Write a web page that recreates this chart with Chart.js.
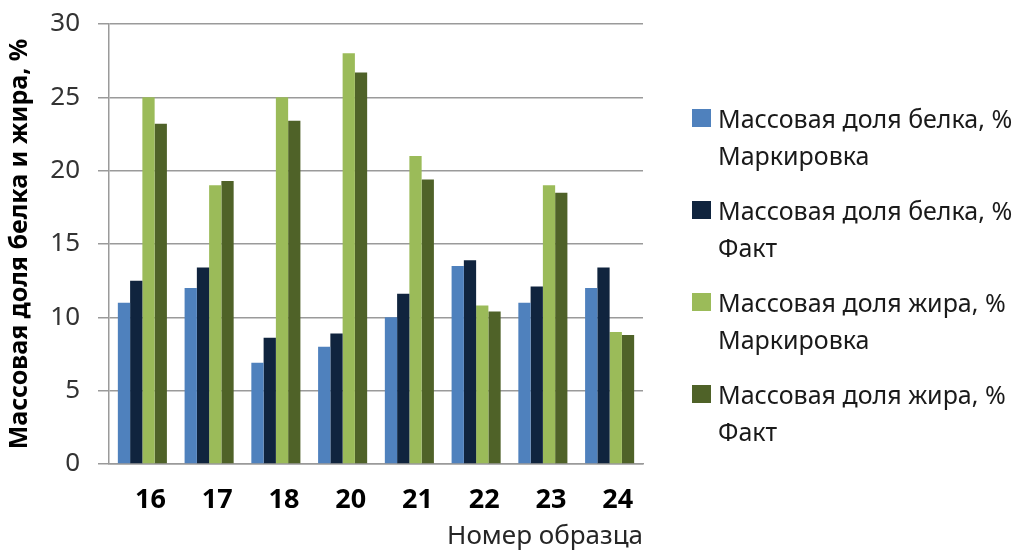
<!DOCTYPE html>
<html>
<head>
<meta charset="utf-8">
<script src="https://cdn.jsdelivr.net/npm/chart.js@4.4.1/dist/chart.umd.min.js"></script>
<style>
  body { margin: 0; background: #fff; }
  #wrap { position: relative; width: 1033px; height: 552px; }
  #legend { position: absolute; left: 692px; top: 100px; font-family: "Noto Sans", sans-serif; font-size: 25px; color: #1a1a1a; }
  .item { display: flex; align-items: flex-start; margin-bottom: 18px; }
  .box { width: 19px; height: 18px; margin-top: 9px; margin-right: 7px; flex: none; }
  .txt { line-height: 37px; white-space: pre; }
</style>
</head>
<body>
<div id="wrap">
  <canvas id="chart" width="1033" height="552"></canvas>
  <div id="legend"></div>
</div>
<script>
var samples = ["16", "17", "18", "20", "21", "22", "23", "24"];
var proteinLabel = [11, 12, 6.9, 8, 10, 13.5, 11, 12];
var proteinFact = [12.5, 13.4, 8.6, 8.9, 11.6, 13.9, 12.1, 13.4];
var fatLabel = [25, 19, 25, 28, 21, 10.8, 19, 9];
var fatFact = [23.2, 19.3, 23.4, 26.7, 19.4, 10.4, 18.5, 8.8];
var seriesNames = [
  "Массовая доля белка, %\nМаркировка",
  "Массовая доля белка, %\nФакт",
  "Массовая доля жира, %\nМаркировка",
  "Массовая доля жира, %\nФакт"
];
var colors = ["#4f81bd", "#10243e", "#9bbb59", "#4f6228"];
var yTicks = [0, 5, 10, 15, 20, 25, 30];

var values = [proteinLabel, proteinFact, fatLabel, fatFact];
var datasets = values.map(function(v, i){
  return {
    label: seriesNames[i],
    data: v,
    backgroundColor: colors[i],
    borderWidth: 0,
    categoryPercentage: 0.735,
    barPercentage: 1
  };
});

var chart = new Chart(document.getElementById("chart"), {
  type: "bar",
  data: { labels: samples, datasets: datasets },
  options: {
    responsive: false,
    animation: false,
    layout: { padding: { top: 24, right: 390, left: 0, bottom: 0 } },
    plugins: { legend: { display: false }, tooltip: { enabled: false } },
    scales: {
      x: {
        grid: { display: false, drawTicks: false },
        border: { display: true, color: "#9a9a9a", width: 1.5 },
        ticks: {
          padding: 20,
          labelOffset: 8,
          color: "#000",
          font: { family: "Noto Sans", size: 27, weight: "bold" }
        },
        title: {
          display: true,
          text: "Номер образца",
          align: "end",
          padding: 0,
          color: "#262626",
          font: { family: "Noto Sans", size: 26 }
        },
        afterFit: function(s){ s.height = 88; }
      },
      y: {
        min: 0,
        max: 30,
        afterBuildTicks: function(s){ s.ticks = yTicks.map(function(v){ return { value: v }; }); },
        grid: { color: "#9a9a9a", lineWidth: 1.5, tickLength: 11 },
        border: { display: true, color: "#9a9a9a", width: 1.5 },
        ticks: {
          padding: 18,
          color: "#333",
          font: { family: "Noto Sans", size: 26 }
        },
        title: {
          display: true,
          text: "Массовая доля белка и жира, %",
          padding: { top: 5, bottom: 0 },
          color: "#000",
          font: { family: "Noto Sans", size: 25, weight: "bold" }
        },
        afterFit: function(s){
          s.width = 109;
          s.paddingTop = 0;
          s.paddingBottom = 0;
        }
      }
    }
  }
});

// legend with two-line entries
var legend = document.getElementById("legend");
chart.data.datasets.forEach(function(ds){
  var item = document.createElement("div");
  item.className = "item";
  var box = document.createElement("div");
  box.className = "box";
  box.style.background = ds.backgroundColor;
  var txt = document.createElement("div");
  txt.className = "txt";
  txt.textContent = ds.label;
  item.appendChild(box);
  item.appendChild(txt);
  legend.appendChild(item);
});
</script>
</body>
</html>
